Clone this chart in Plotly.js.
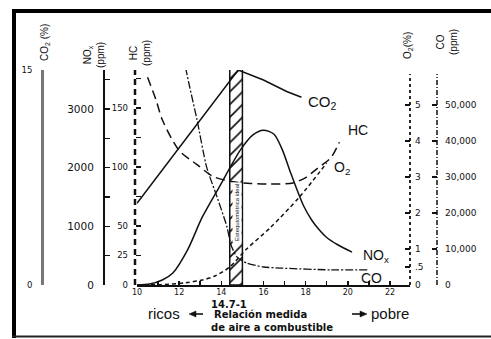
<!DOCTYPE html>
<html>
<head>
<meta charset="utf-8">
<script src="https://cdn.plot.ly/plotly-3.0.1.min.js"></script>
<style>html,body{margin:0;padding:0;background:#fff;}#chart{width:491px;height:339px;}</style>
</head>
<body>
<div id="chart"></div>
<script>
// ---- data ----
const afrCO2 = [10, 14.8, 16.0, 17.1, 17.8];
const co2Pct = [5.7, 15.0, 14.3, 13.5, 13.1];

const afrNOx = [10, 10.6, 11.2, 11.7, 12.4, 13.1, 13.9, 14.9, 15.5, 16.0, 16.5, 16.9, 17.3, 17.9, 18.3, 18.6, 19.0, 19.5, 20.2];
const noxPpm = [0, 17, 85, 205, 600, 1160, 1670, 2300, 2560, 2640, 2570, 2300, 1900, 1350, 1100, 960, 810, 690, 560];

const afrHC = [10.5, 10.9, 11.2, 12.0, 12.85, 13.6, 14.4, 15.4, 16.3, 17.4, 18.0, 18.5, 19.2, 19.6];
const hcPpm = [176, 157, 140, 114, 102, 92, 88, 86, 85.5, 86.5, 91, 98, 108, 121];

const afrO2 = [10, 11.1, 12.3, 13.1, 13.7, 14.4, 15.2, 16.3, 17.7, 19.0];
const o2Pct = [0, 0.01, 0.06, 0.14, 0.25, 0.5, 1.0, 1.58, 2.44, 3.39];

const afrCO = [12.3, 12.5, 12.85, 13.3, 13.8, 14.27, 14.46, 14.74, 15.2, 16.0, 16.8, 19.2, 21.0];
const coPpm = [60500, 55000, 45800, 32800, 24400, 16100, 11100, 7800, 6100, 5000, 4700, 4200, 4200];

const stoichX = [14.7];
const stoichTop = [15.14];
const stoichWidth = [0.6];

const xTickVals = [10,12,14,16,18,20,22];
const co2Ticks = [0, 15];
const noxTickVals = [0,1000,2000,3000];
const hcTickVals = [0,25,50,100,150];
const o2TickVals = [0,0.5,1,2,3,4,5];
const o2TickText = ['0','.5','1','2','3','4','5'];
const coTickVals = [0,10000,20000,30000,40000,50000];
const coTickText = ['0','10,000','20,000','30,000','40,000','50,000'];

// ---- layout helpers (pixel -> paper) ----
const W = 491, H = 339;
const fx = p => p / W;
const fy = p => 1 - p / H;
const INK = '#111';
const FONT = 'Liberation Sans, Arial, Helvetica, sans-serif';
const WIDE = 'DejaVu Sans, Verdana, sans-serif';

const traces = [
  {type:'bar', x:stoichX, y:stoichTop, width:stoichWidth, xaxis:'x', yaxis:'y',
   marker:{color:'white', line:{color:INK, width:1.5},
           pattern:{shape:'/', fgcolor:INK, bgcolor:'white', size:9, solidity:0.18}},
   hoverinfo:'skip'},
  {type:'scatter', mode:'lines', x:afrCO2, y:co2Pct, xaxis:'x', yaxis:'y',
   line:{color:INK, width:1.5}},
  {type:'scatter', mode:'lines', x:afrNOx, y:noxPpm, xaxis:'x', yaxis:'y2',
   line:{color:INK, width:1.5, shape:'spline', smoothing:0.8}},
  {type:'scatter', mode:'lines', x:afrHC, y:hcPpm, xaxis:'x', yaxis:'y3',
   line:{color:INK, width:1.5, shape:'spline', smoothing:0.8, dash:'9px,5px'}},
  {type:'scatter', mode:'lines', x:afrO2, y:o2Pct, xaxis:'x', yaxis:'y4',
   line:{color:INK, width:1.5, shape:'spline', smoothing:0.8, dash:'4px,3px'}},
  {type:'scatter', mode:'lines', x:afrCO, y:coPpm, xaxis:'x', yaxis:'y5',
   line:{color:INK, width:1.3, shape:'spline', smoothing:0.6, dash:'8px,2px,2px,2px'}}
];

const yDom = [fy(285), fy(70)];
const baseY = {domain:yDom, anchor:'free', showgrid:false, zeroline:false, fixedrange:true,
  ticks:'inside', ticklen:5, tickwidth:1.5, tickcolor:INK, ticklabelstandoff:7};

const layout = {
  width:W, height:H, margin:{l:0,r:0,t:0,b:0}, showlegend:false,
  paper_bgcolor:'white', plot_bgcolor:'rgba(0,0,0,0)',
  font:{family:FONT, color:INK},
  bargap:0,
  xaxis:{domain:[fx(137), fx(410)], range:[10, 22.95], anchor:'y',
    tickvals:xTickVals, ticks:'inside', ticklen:4, tickwidth:1.5, tickcolor:INK,
    minor:{dtick:1, tick0:10, ticks:'inside', ticklen:4, tickwidth:1.5, tickcolor:INK, showgrid:false},
    showline:true, linewidth:2, linecolor:INK, showgrid:false, zeroline:false,
    tickfont:{size:8, color:INK, family:WIDE}, ticklabelstandoff:-2},
  yaxis:Object.assign({}, baseY, {range:[0,15], position:fx(42), side:'left',
    tickvals:co2Ticks, showline:true, linecolor:'#777', linewidth:2.5, tickfont:{size:8.5, family:WIDE}}),
  yaxis2:Object.assign({}, baseY, {range:[0,3665], position:fx(103), side:'left', overlaying:'y',
    tickvals:noxTickVals, minor:{dtick:500, tick0:0, ticks:'inside', ticklen:5, tickwidth:1.5, tickcolor:INK, showgrid:false},
    showline:true, linecolor:INK, linewidth:1.5, tickfont:{size:10.5, family:WIDE}}),
  yaxis3:Object.assign({}, baseY, {range:[0,182.2], position:fx(135), side:'left', overlaying:'y',
    tickvals:hcTickVals, minor:{dtick:25, tick0:0, ticks:'inside', ticklen:5, tickwidth:1.5, tickcolor:INK, showgrid:false},
    showline:false, tickfont:{size:8.5, family:WIDE}}),
  yaxis4:Object.assign({}, baseY, {range:[0,5.972], position:fx(410), side:'right', overlaying:'y',
    tickvals:o2TickVals, ticktext:o2TickText, showline:false, tickfont:{size:9, family:WIDE}, ticklabelstandoff:4}),
  yaxis5:Object.assign({}, baseY, {range:[0,59722], position:fx(437), side:'right', overlaying:'y',
    tickvals:coTickVals, ticktext:coTickText, showline:false, tickfont:{size:9, family:WIDE}}),
  shapes:[
    // frame of the scanned figure
    {type:'line', xref:'paper', yref:'paper', x0:fx(14), x1:fx(14), y0:fy(9), y1:fy(338), line:{color:'#000', width:4}},
    {type:'line', xref:'paper', yref:'paper', x0:fx(12), x1:1, y0:fy(11), y1:fy(11), line:{color:'#000', width:4}},
    {type:'line', xref:'paper', yref:'paper', x0:fx(12), x1:1, y0:fy(336.5), y1:fy(336.5), line:{color:'#222', width:2}},
    // dashed axis lines
    {type:'line', xref:'paper', yref:'paper', x0:fx(135), x1:fx(135), y0:fy(285), y1:fy(70), line:{color:INK, width:2.5, dash:'6px,4px'}},
    {type:'line', xref:'paper', yref:'paper', x0:fx(410), x1:fx(410), y0:fy(285), y1:fy(74), line:{color:INK, width:1.8, dash:'3px,3px'}},
    {type:'line', xref:'paper', yref:'paper', x0:fx(437), x1:fx(437), y0:fy(285), y1:fy(74), line:{color:INK, width:1.5, dash:'5px,2px,1px,2px'}},
    // caption arrows (rich <- / -> lean)
    {type:'line', xref:'paper', yref:'paper', x0:fx(194), x1:fx(203), y0:fy(314), y1:fy(314), line:{color:INK, width:1.6}},
    {type:'path', xref:'paper', yref:'paper',
     path:`M ${fx(189)} ${fy(314)} L ${fx(196)} ${fy(311)} L ${fx(196)} ${fy(317)} Z`, fillcolor:INK, line:{color:INK, width:0.5}},
    {type:'line', xref:'paper', yref:'paper', x0:fx(352), x1:fx(361), y0:fy(314), y1:fy(314), line:{color:INK, width:1.6}},
    {type:'path', xref:'paper', yref:'paper',
     path:`M ${fx(367)} ${fy(314)} L ${fx(360)} ${fy(311)} L ${fx(360)} ${fy(317)} Z`, fillcolor:INK, line:{color:INK, width:0.5}}
  ],
  annotations:[]
};

function ann(text, x, y, size, opts) {
  layout.annotations.push(Object.assign({xref:'paper', yref:'paper', x:fx(x), y:fy(y), text:text,
    showarrow:false, xanchor:'center', yanchor:'middle', font:{size:size, color:INK, family:FONT}}, opts||{}));
}
// axis titles (rotated)
ann('CO<sub>2</sub> (%)', 45, 43, 10, {textangle:-90});
ann('NO<sub>x</sub><br>(ppm)', 94, 55, 10, {textangle:-90});
ann('HC<br>(ppm)', 140, 53, 10, {textangle:-90});
ann('O<sub>2</sub>(%)', 408, 46, 10, {textangle:-90});
ann('CO<br>(ppm)', 447, 42, 10, {textangle:-90});
// curve labels
ann('CO<sub>2</sub>', 322, 103, 15);
ann('HC', 358, 130, 14);
ann('O<sub>2</sub>', 342, 168, 14);
ann('NO<sub>x</sub>', 376, 256, 14);
ann('CO', 371, 278, 14);
// stoichiometric strip text
ann('Estequiométrica ideal', 237, 213, 6, {textangle:-90, bgcolor:'white'});
// x-axis captions
ann('<b>14.7-1</b>', 229, 304, 10, {font:{size:10, color:INK, family:WIDE}});
ann('ricos', 164, 313, 15);
ann('<b>Relación medida</b>', 260, 314, 10, {font:{size:10, color:INK, family:WIDE}});
ann('<b>de aire a combustible</b>', 272, 327, 10, {font:{size:10, color:INK, family:WIDE}});
ann('pobre', 390, 313, 15);

Plotly.newPlot('chart', traces, layout, {staticPlot:true, displayModeBar:false});
</script>
</body>
</html>
